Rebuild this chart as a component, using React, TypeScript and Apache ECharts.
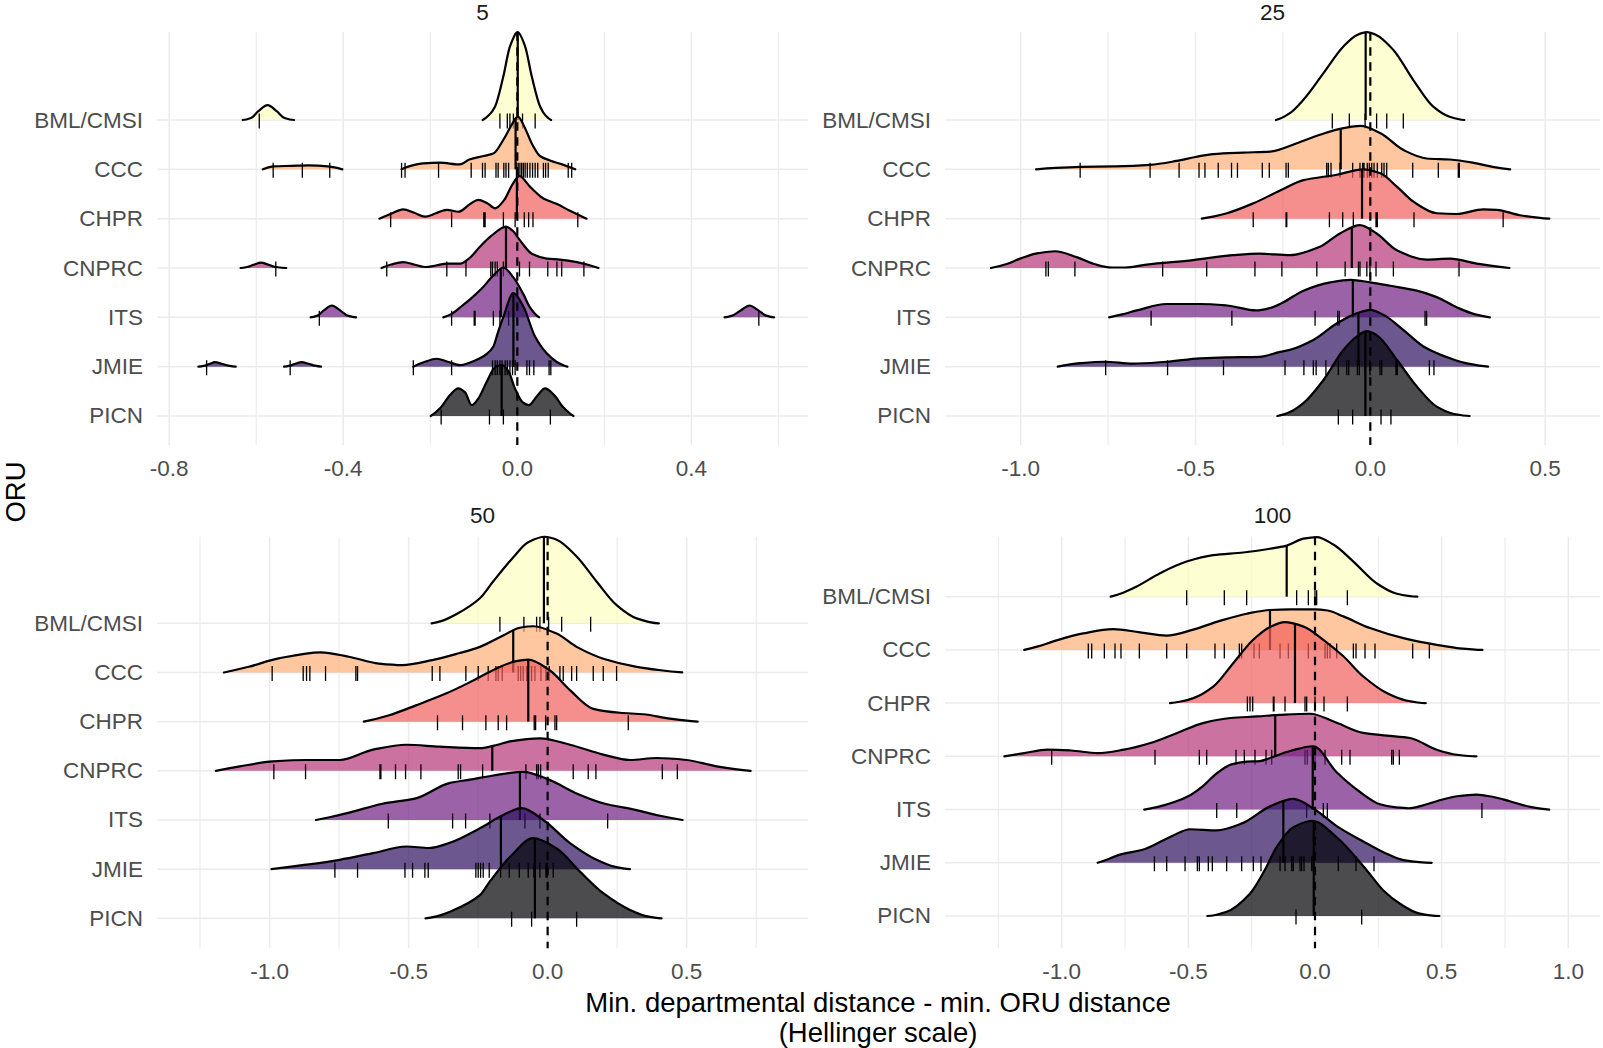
import React, { useEffect, useRef } from "react";
import * as echarts from "echarts";

// ---------- categories / labels ----------
const ORU = ["BML/CMSI", "CCC", "CHPR", "CNPRC", "ITS", "JMIE", "PICN"];
const ROW_OF = [7, 6, 5, 4, 3, 2, 1];
const MAGMA = ["#FCFDBF", "#FEAF77", "#F1605D", "#B63679", "#721F81", "#2D1160", "#000004"];
const PANEL_TITLES = ["5", "25", "50", "100"];

// ---------- x axis ticks ----------
const xMajor5 = [-0.8, -0.4, 0.0, 0.4];
const xMinor5 = [-0.6, -0.2, 0.2, 0.6];
const xMajor25 = [-1.0, -0.5, 0.0, 0.5];
const xMinor25 = [-0.75, -0.25, 0.25];
const xMajor50 = [-1.0, -0.5, 0.0, 0.5];
const xMinor50 = [-1.25, -0.75, -0.25, 0.25, 0.75];
const xMajor100 = [-1.0, -0.5, 0.0, 0.5, 1.0];
const xMinor100 = [-1.25, -0.75, -0.25, 0.25, 0.75];

const xRange5 = [-0.828, 0.668];
const xRange25 = [-1.2166, 0.657];
const xRange50 = [-1.4047, 0.9363];
const xRange100 = [-1.4607, 1.1251];
const yRange5 = [0.412, 8.778];
const yRange25 = [0.412, 8.778];
const yRange50 = [0.39, 8.761];
const yRange100 = [0.393, 8.127];

// ---------- density ridges: per ORU, list of segments of [x, height in rows] ----------
const density5 = [
  [
    [[-0.631, 0], [-0.612, 0.04], [-0.595, 0.18], [-0.574, 0.3], [-0.553, 0.18], [-0.535, 0.04], [-0.513, 0]],
    [[-0.0796, 0], [-0.065, 0.1], [-0.0513, 0.27], [-0.0322, 0.88], [-0.0169, 1.49], [0.001, 1.78], [0.018, 1.49], [0.0333, 0.88], [0.0525, 0.27], [0.066, 0.08], [0.0775, 0]],
  ],
  [
    [[-0.585, 0], [-0.56, 0.06], [-0.52, 0.07], [-0.48, 0.08], [-0.45, 0.07], [-0.42, 0.04], [-0.402, 0]],
    [[-0.266, 0], [-0.245, 0.07], [-0.216, 0.12], [-0.178, 0.135], [-0.132, 0.1], [-0.11, 0.2], [-0.078, 0.27], [-0.055, 0.32], [-0.032, 0.6], [-0.013, 0.9], [0.001, 1.07], [0.018, 0.83], [0.033, 0.53], [0.052, 0.27], [0.075, 0.18], [0.106, 0.09], [0.133, 0]],
  ],
  [
    [[-0.317, 0], [-0.29, 0.1], [-0.262, 0.19], [-0.237, 0.12], [-0.212, 0.04], [-0.187, 0.11], [-0.162, 0.18], [-0.135, 0.14], [-0.108, 0.3], [-0.09, 0.38], [-0.07, 0.32], [-0.051, 0.21], [-0.03, 0.38], [-0.012, 0.68], [0.0046, 0.865], [0.029, 0.65], [0.06, 0.41], [0.09, 0.3], [0.121, 0.16], [0.159, 0]],
  ],
  [
    [[-0.636, 0], [-0.621, 0.02], [-0.606, 0.065], [-0.589, 0.11], [-0.572, 0.065], [-0.555, 0.02], [-0.531, 0]],
    [[-0.312, 0], [-0.29, 0.07], [-0.262, 0.12], [-0.237, 0.07], [-0.212, 0.02], [-0.187, 0.05], [-0.162, 0.09], [-0.13, 0.09], [-0.11, 0.2], [-0.086, 0.43], [-0.06, 0.65], [-0.026, 0.84], [-0.01, 0.75], [0.0062, 0.56], [0.0333, 0.29], [0.068, 0.19], [0.098, 0.17], [0.137, 0.12], [0.1865, 0]],
  ],
  [
    [[-0.475, 0], [-0.459, 0.035], [-0.444, 0.145], [-0.426, 0.24], [-0.408, 0.145], [-0.39, 0.035], [-0.3705, 0]],
    [[-0.17, 0], [-0.151, 0.07], [-0.126, 0.24], [-0.108, 0.37], [-0.08, 0.6], [-0.055, 0.85], [-0.032, 1.01], [-0.009, 0.81], [0.0139, 0.47], [0.029, 0.2], [0.05, 0]],
    [[0.476, 0], [0.494, 0.035], [0.514, 0.145], [0.5334, 0.24], [0.553, 0.145], [0.572, 0.035], [0.59, 0]],
  ],
  [
    [[-0.733, 0], [-0.718, 0.02], [-0.706, 0.06], [-0.695, 0.09], [-0.68, 0.06], [-0.664, 0.02], [-0.647, 0]],
    [[-0.536, 0], [-0.523, 0.02], [-0.51, 0.06], [-0.496, 0.09], [-0.48, 0.06], [-0.465, 0.02], [-0.451, 0]],
    [[-0.239, 0], [-0.215, 0.09], [-0.185, 0.16], [-0.16, 0.1], [-0.131, 0.03], [-0.11, 0.08], [-0.086, 0.17], [-0.07, 0.26], [-0.055, 0.41], [-0.045, 0.68], [-0.032, 1.01], [-0.009, 1.49], [0.0139, 1.22], [0.0407, 0.61], [0.0675, 0.27], [0.09, 0.1], [0.115, 0]],
  ],
  [
    [[-0.199, 0], [-0.177, 0.16], [-0.154, 0.43], [-0.136, 0.56], [-0.12, 0.48], [-0.105, 0.22], [-0.09, 0.35], [-0.07, 0.7], [-0.05, 1.0], [-0.035, 1.03], [-0.02, 0.9], [-0.005, 0.55], [0.012, 0.28], [0.026, 0.22], [0.045, 0.4], [0.0638, 0.56], [0.085, 0.42], [0.105, 0.18], [0.129, 0]],
  ],
];

const density25 = [
  [[[-0.27, 0], [-0.23, 0.14], [-0.1915, 0.41], [-0.134, 0.95], [-0.077, 1.49], [-0.039, 1.72], [-0.01, 1.78], [0.018, 1.72], [0.066, 1.42], [0.123, 0.81], [0.18, 0.27], [0.225, 0.07], [0.269, 0]]],
  [[[-0.956, 0], [-0.9, 0.03], [-0.83, 0.05], [-0.73, 0.06], [-0.63, 0.09], [-0.554, 0.17], [-0.5, 0.25], [-0.449, 0.31], [-0.363, 0.34], [-0.287, 0.36], [-0.21, 0.53], [-0.144, 0.7], [-0.08, 0.83], [-0.028, 0.88], [0.029, 0.73], [0.095, 0.39], [0.161, 0.22], [0.228, 0.2], [0.304, 0.12], [0.35, 0.05], [0.4, 0]]],
  [[[-0.482, 0], [-0.45, 0.04], [-0.41, 0.11], [-0.335, 0.31], [-0.258, 0.57], [-0.1915, 0.78], [-0.096, 0.89], [-0.02, 1.0], [0.0286, 0.92], [0.076, 0.65], [0.124, 0.34], [0.19, 0.11], [0.247, 0.095], [0.3235, 0.19], [0.361, 0.18], [0.428, 0.07], [0.512, 0]]],
  [[[-1.085, 0], [-1.04, 0.08], [-1.002, 0.19], [-0.95, 0.3], [-0.902, 0.34], [-0.84, 0.22], [-0.79, 0.08], [-0.74, 0.01], [-0.7, 0.01], [-0.64, 0.07], [-0.507, 0.16], [-0.393, 0.26], [-0.317, 0.29], [-0.229, 0.26], [-0.144, 0.43], [-0.087, 0.7], [-0.0295, 0.87], [0.018, 0.7], [0.076, 0.36], [0.161, 0.17], [0.228, 0.19], [0.304, 0.09], [0.398, 0]]],
  [[[-0.747, 0], [-0.71, 0.06], [-0.668, 0.14], [-0.583, 0.27], [-0.487, 0.27], [-0.411, 0.24], [-0.326, 0.14], [-0.287, 0.19], [-0.25, 0.3], [-0.1915, 0.54], [-0.115, 0.71], [-0.057, 0.76], [0.0, 0.71], [0.057, 0.64], [0.133, 0.54], [0.19, 0.41], [0.248, 0.2], [0.3, 0.06], [0.342, 0]]],
  [[[-0.894, 0], [-0.83, 0.07], [-0.759, 0.1], [-0.68, 0.06], [-0.583, 0.1], [-0.487, 0.17], [-0.411, 0.19], [-0.317, 0.2], [-0.258, 0.3], [-0.23, 0.34], [-0.163, 0.54], [-0.095, 0.88], [-0.039, 1.08], [0.0, 1.15], [0.038, 1.05], [0.095, 0.74], [0.152, 0.41], [0.228, 0.17], [0.28, 0.06], [0.337, 0]]],
  [[[-0.266, 0], [-0.23, 0.08], [-0.1915, 0.26], [-0.134, 0.73], [-0.077, 1.34], [-0.039, 1.61], [-0.01, 1.72], [0.018, 1.64], [0.076, 1.14], [0.133, 0.6], [0.19, 0.19], [0.24, 0.04], [0.284, 0]]],
];

const density50 = [
  [[[-0.417, 0], [-0.38, 0.05], [-0.327, 0.19], [-0.2435, 0.51], [-0.196, 0.85], [-0.124, 1.34], [-0.07, 1.65], [-0.01, 1.76], [0.0324, 1.7], [0.1043, 1.36], [0.176, 0.85], [0.248, 0.37], [0.32, 0.1], [0.4, 0]]],
  [[[-1.164, 0], [-1.075, 0.115], [-0.967, 0.285], [-0.817, 0.41], [-0.715, 0.32], [-0.607, 0.18], [-0.523, 0.15], [-0.415, 0.25], [-0.319, 0.39], [-0.2435, 0.52], [-0.16, 0.75], [-0.0996, 0.91], [-0.0516, 0.94], [0.0324, 0.79], [0.1043, 0.52], [0.2002, 0.28], [0.32, 0.115], [0.4, 0.05], [0.484, 0]]],
  [[[-0.661, 0], [-0.5696, 0.13], [-0.4737, 0.33], [-0.366, 0.57], [-0.28, 0.8], [-0.1836, 1.08], [-0.12, 1.22], [-0.0696, 1.26], [0.0084, 1.04], [0.0804, 0.64], [0.1643, 0.26], [0.26, 0.18], [0.3441, 0.15], [0.44, 0.06], [0.5395, 0]]],
  [[[-1.193, 0], [-1.107, 0.09], [-0.988, 0.19], [-0.868, 0.22], [-0.748, 0.22], [-0.628, 0.43], [-0.508, 0.53], [-0.388, 0.49], [-0.2435, 0.46], [-0.18, 0.53], [-0.1356, 0.6], [-0.0276, 0.66], [0.0804, 0.53], [0.2, 0.33], [0.296, 0.22], [0.392, 0.26], [0.5, 0.22], [0.608, 0.09], [0.73, 0]]],
  [[[-0.833, 0], [-0.78, 0.06], [-0.713, 0.15], [-0.594, 0.33], [-0.474, 0.44], [-0.354, 0.75], [-0.28, 0.82], [-0.2, 0.9], [-0.0877, 0.98], [0.0084, 0.81], [0.1043, 0.54], [0.2, 0.34], [0.32, 0.2], [0.4, 0.09], [0.485, 0]]],
  [[[-0.993, 0], [-0.868, 0.09], [-0.748, 0.19], [-0.628, 0.325], [-0.508, 0.46], [-0.4257, 0.43], [-0.354, 0.53], [-0.2435, 0.83], [-0.16, 1.1], [-0.0935, 1.24], [-0.0156, 1.0], [0.0804, 0.53], [0.176, 0.19], [0.24, 0.05], [0.296, 0]]],
  [[[-0.439, 0], [-0.4, 0.04], [-0.351, 0.135], [-0.2435, 0.47], [-0.2076, 0.75], [-0.135, 1.25], [-0.0516, 1.63], [0.0324, 1.42], [0.1163, 0.95], [0.2, 0.51], [0.296, 0.17], [0.35, 0.05], [0.41, 0]]],
];

const density100 = [
  [[[-0.8066, 0], [-0.76, 0.07], [-0.704, 0.19], [-0.612, 0.44], [-0.507, 0.66], [-0.402, 0.78], [-0.283, 0.83], [-0.1785, 0.9], [-0.1118, 0.96], [-0.046, 1.09], [0.0066, 1.12], [0.0724, 0.98], [0.1514, 0.66], [0.2436, 0.25], [0.32, 0.06], [0.404, 0]]],
  [[[-1.1476, 0], [-1.09, 0.07], [-1.033, 0.16], [-0.915, 0.31], [-0.797, 0.39], [-0.6915, 0.33], [-0.5863, 0.27], [-0.481, 0.38], [-0.376, 0.545], [-0.2698, 0.68], [-0.1777, 0.75], [-0.0987, 0.76], [0.0, 0.76], [0.05, 0.74], [0.1119, 0.63], [0.2172, 0.41], [0.3488, 0.22], [0.4805, 0.094], [0.57, 0.03], [0.661, 0]]],
  [[[-0.5725, 0], [-0.53, 0.03], [-0.48, 0.094], [-0.402, 0.31], [-0.323, 0.75], [-0.244, 1.19], [-0.1777, 1.43], [-0.12, 1.52], [-0.046, 1.44], [0.0329, 1.19], [0.1119, 0.88], [0.1908, 0.5], [0.283, 0.19], [0.36, 0.05], [0.4369, 0]]],
  [[[-1.2265, 0], [-1.148, 0.06], [-1.056, 0.125], [-0.964, 0.11], [-0.859, 0.06], [-0.754, 0.125], [-0.6495, 0.25], [-0.5441, 0.44], [-0.4388, 0.63], [-0.3335, 0.72], [-0.2281, 0.75], [-0.138, 0.78], [-0.02, 0.8], [0.0856, 0.63], [0.1908, 0.44], [0.283, 0.39], [0.375, 0.345], [0.4805, 0.125], [0.56, 0.03], [0.6375, 0]]],
  [[[-0.674, 0], [-0.62, 0.05], [-0.55, 0.15], [-0.493, 0.27], [-0.44, 0.45], [-0.388, 0.68], [-0.33, 0.85], [-0.27, 0.9], [-0.2171, 0.91], [-0.1777, 0.97], [-0.0987, 1.1], [-0.0066, 1.19], [0.0856, 0.7], [0.1777, 0.33], [0.2566, 0.1], [0.32, 0.04], [0.37, 0.025], [0.42, 0.07], [0.4805, 0.157], [0.56, 0.25], [0.6375, 0.28], [0.7, 0.24], [0.769, 0.157], [0.85, 0.05], [0.9245, 0]]],
  [[[-0.858, 0], [-0.82, 0.06], [-0.7764, 0.144], [-0.671, 0.26], [-0.566, 0.5], [-0.493, 0.63], [-0.388, 0.61], [-0.283, 0.75], [-0.178, 1.06], [-0.0856, 1.2], [-0.0066, 1.02], [0.0856, 0.69], [0.1908, 0.4], [0.27, 0.2], [0.35, 0.05], [0.4606, 0]]],
  [[[-0.425, 0], [-0.3488, 0.08], [-0.257, 0.42], [-0.2, 0.85], [-0.151, 1.3], [-0.0856, 1.67], [-0.011, 1.79], [0.0856, 1.48], [0.204, 0.86], [0.27, 0.48], [0.3356, 0.23], [0.41, 0.05], [0.491, 0]]],
];

// ---------- observations (rug ticks) ----------
const rug5 = [
  [-0.593, -0.04, -0.023, -0.017, -0.009, 0.012, 0.041],
  [-0.561, -0.494, -0.431, -0.266, -0.258, -0.181, -0.106, -0.08, -0.074, -0.049, -0.044, -0.031, -0.026, -0.02, -0.002, 0.002, 0.006, 0.01, 0.014, 0.018, 0.023, 0.029, 0.035, 0.041, 0.047, 0.06, 0.065, 0.071, 0.117, 0.125],
  [-0.291, -0.151, -0.077, -0.074, -0.032, -0.005, 0.016, 0.026, 0.036, 0.139],
  [-0.555, -0.3, -0.162, -0.118, -0.061, -0.057, -0.051, -0.046, -0.032, 0.005, 0.028, 0.07, 0.091, 0.102, 0.153],
  [-0.455, -0.151, -0.099, -0.097, -0.055, -0.04, -0.02, 0.555],
  [-0.714, -0.522, -0.239, -0.151, -0.057, -0.051, -0.046, -0.04, -0.035, -0.028, -0.023, -0.017, -0.011, -0.005, 0.022, 0.028, 0.038, 0.073, 0.077],
  [-0.175, -0.064, -0.032, 0.076],
];
const rug25 = [
  [-0.1087, -0.06, -0.015, 0.018, 0.047, 0.0944],
  [-0.83, -0.63, -0.547, -0.49, -0.473, -0.435, -0.397, -0.38, -0.309, -0.289, -0.241, -0.2345, -0.1248, -0.12, -0.1124, -0.0867, -0.0505, -0.0295, -0.0219, -0.018, -0.0086, -0.0029, 0.004, 0.0106, 0.02, 0.0326, 0.0392, 0.0469, 0.1213, 0.1945, 0.2517, 0.2546],
  [-0.335, -0.241, -0.239, -0.117, -0.079, -0.0486, 0.0163, 0.02, 0.125, 0.38],
  [-0.928, -0.921, -0.845, -0.594, -0.468, -0.33, -0.253, -0.153, -0.072, -0.034, -0.0295, -0.01, -0.001, 0.0163, 0.066, 0.2537],
  [-0.627, -0.396, -0.158, -0.0934, -0.0887, 0.1565, 0.161],
  [-0.757, -0.58, -0.42, -0.244, -0.19, -0.163, -0.155, -0.127, -0.0915, -0.0675, -0.0618, -0.037, -0.0315, -0.015, -0.001, 0.0277, 0.0326, 0.0735, 0.077, 0.169, 0.182],
  [-0.0915, -0.0505, 0.0306, 0.059],
];
const rug50 = [
  [-0.1716, -0.0853, -0.0396, -0.0277, 0.0036, 0.0504, 0.1547],
  [-0.9906, -0.879, -0.867, -0.855, -0.7986, -0.6896, -0.6835, -0.415, -0.3874, -0.294, -0.2496, -0.2137, -0.186, -0.1777, -0.1633, -0.1058, -0.0971, -0.0878, -0.0755, -0.0576, -0.0457, -0.0241, -0.0061, 0.0058, 0.0442, 0.0561, 0.0863, 0.1043, 0.164, 0.2, 0.248],
  [-0.396, -0.306, -0.222, -0.1777, -0.1475, -0.0482, -0.0432, -0.0072, 0.0263, 0.0324, 0.29],
  [-0.9845, -0.8705, -0.603, -0.5996, -0.547, -0.5108, -0.4557, -0.3216, -0.313, -0.2338, -0.078, -0.0396, -0.0336, -0.0252, 0.092, 0.146, 0.1737, 0.4124, 0.4664],
  [-0.573, -0.3417, -0.295, -0.2076, -0.0817, -0.0277, 0.2158],
  [-0.765, -0.6835, -0.513, -0.4857, -0.4414, -0.4294, -0.258, -0.2496, -0.241, -0.2316, -0.21, -0.169, -0.138, -0.102, -0.0698, -0.0493, -0.0277, -0.0061, -0.0014, 0.0201],
  [-0.1295, -0.0576, 0.1043],
];
const rug100 = [
  [-0.5066, -0.358, -0.2698, -0.0724, -0.0263, 0.0, 0.0066, 0.1277],
  [-0.895, -0.8816, -0.8316, -0.7896, -0.766, -0.6935, -0.5855, -0.5066, -0.3948, -0.358, -0.2987, -0.2895, -0.2408, -0.2198, -0.138, -0.1053, -0.0263, 0.0395, 0.0487, 0.0592, 0.0856, 0.1514, 0.1619, 0.1974, 0.2369, 0.3856, 0.4514],
  [-0.267, -0.2566, -0.246, -0.1645, -0.1619, -0.1184, -0.0395, -0.0329, 0.0, 0.0355, 0.1277],
  [-1.0395, -0.6317, -0.4567, -0.4276, -0.3119, -0.279, -0.2369, -0.1934, -0.171, -0.0395, -0.0303, -0.0066, 0.0, 0.0395, 0.1053, 0.1382, 0.3027, 0.3093, 0.333],
  [-0.388, -0.309, -0.0329, 0.0329, 0.0487, 0.659],
  [-0.634, -0.5855, -0.513, -0.4645, -0.4567, -0.4212, -0.4053, -0.3488, -0.2895, -0.2435, -0.2132, -0.138, -0.1184, -0.092, -0.0856, -0.0592, -0.0526, -0.0434, -0.013, -0.0066, 0.092, 0.1619, 0.2329],
  [-0.075, 0.1843],
];

// ---------- medians (quantile lines) ----------
const median5 = [0.001, -0.004, -0.001, -0.026, -0.038, -0.009, -0.036];
const median25 = [-0.0133, -0.0847, -0.0237, -0.053, -0.05, -0.034, -0.014];
const median50 = [-0.0133, -0.1237, -0.0696, -0.199, -0.0996, -0.168, -0.0457];
const median100 = [-0.1118, -0.1777, -0.079, -0.157, -0.009, -0.125, -0.005];

// ---------- layout ----------
const FONT = "'Liberation Sans', Arial, Helvetica, sans-serif";
const GRID_BOX = [
  [157, 32.3, 651, 412.7],
  [945, 32.3, 655, 412.7],
  [157, 536.7, 651, 411.6],
  [945, 536.7, 655, 411.6],
];

const PANELS = [
  { dens: density5, rug: rug5, med: median5, major: xMajor5, minor: xMinor5, xr: xRange5, yr: yRange5 },
  { dens: density25, rug: rug25, med: median25, major: xMajor25, minor: xMinor25, xr: xRange25, yr: yRange25 },
  { dens: density50, rug: rug50, med: median50, major: xMajor50, minor: xMinor50, xr: xRange50, yr: yRange50 },
  { dens: density100, rug: rug100, med: median100, major: xMajor100, minor: xMinor100, xr: xRange100, yr: yRange100 },
];

function rgba(hex: string, a: number) {
  const r = parseInt(hex.slice(1, 3), 16), g = parseInt(hex.slice(3, 5), 16), b = parseInt(hex.slice(5, 7), 16);
  return `rgba(${r},${g},${b},${a})`;
}

// monotone cubic (PCHIP) slopes
function slopes(pts: number[][]): number[] {
  const n = pts.length;
  const h: number[] = [], d: number[] = [];
  for (let i = 0; i < n - 1; i++) {
    h[i] = pts[i + 1][0] - pts[i][0];
    d[i] = (pts[i + 1][1] - pts[i][1]) / h[i];
  }
  const m = new Array(n).fill(0);
  if (n === 2) { m[0] = d[0]; m[1] = d[0]; return m; }
  for (let i = 1; i < n - 1; i++) {
    if (d[i - 1] * d[i] <= 0) m[i] = 0;
    else {
      const w1 = 2 * h[i] + h[i - 1], w2 = h[i] + 2 * h[i - 1];
      m[i] = (w1 + w2) / (w1 / d[i - 1] + w2 / d[i]);
    }
  }
  const end = (h0: number, h1: number, d0: number, d1: number) => {
    let mm = ((2 * h0 + h1) * d0 - h0 * d1) / (h0 + h1);
    if (Math.sign(mm) !== Math.sign(d0)) mm = 0;
    else if (Math.sign(d0) !== Math.sign(d1) && Math.abs(mm) > Math.abs(3 * d0)) mm = 3 * d0;
    return mm;
  };
  m[0] = end(h[0], h[1], d[0], d[1]);
  m[n - 1] = end(h[n - 2], h[n - 3], d[n - 2], d[n - 3]);
  return m;
}

function heightAt(segs: number[][][], x: number): number {
  for (const seg of segs) {
    if (x < seg[0][0] || x > seg[seg.length - 1][0]) continue;
    const m = slopes(seg);
    for (let i = 0; i < seg.length - 1; i++) {
      const [x0, y0] = seg[i], [x1, y1] = seg[i + 1];
      if (x >= x0 && x <= x1) {
        const dx = x1 - x0, t = (x - x0) / dx;
        const t2 = t * t, t3 = t2 * t;
        return (2 * t3 - 3 * t2 + 1) * y0 + (t3 - 2 * t2 + t) * dx * m[i] + (-2 * t3 + 3 * t2) * y1 + (t3 - t2) * dx * m[i + 1];
      }
    }
  }
  return 0;
}

function buildOption() {
  const grid = GRID_BOX.map((b) => ({ left: b[0], top: b[1], width: b[2], height: b[3], containLabel: false, outerBoundsMode: "none" }));
  const axisText = { color: "#4D4D4D", fontSize: 22.5, fontFamily: FONT };
  const xAxis = PANELS.map((p, i) => ({
    type: "value", gridIndex: i, min: p.xr[0], max: p.xr[1],
    axisLine: { show: false }, axisTick: { show: false }, splitLine: { show: false },
    axisLabel: { ...axisText, margin: 12, customValues: p.major, formatter: (v: number) => v.toFixed(1), showMinLabel: true, showMaxLabel: true },
  }));
  const yAxis = PANELS.map((p, i) => ({
    type: "value", gridIndex: i, min: p.yr[0], max: p.yr[1],
    axisLine: { show: false }, axisTick: { show: false }, splitLine: { show: false },
    axisLabel: { ...axisText, margin: 14, customValues: [1, 2, 3, 4, 5, 6, 7], formatter: (v: number) => ORU[7 - Math.round(v)] },
  }));

  const series: any[] = [];
  PANELS.forEach((p, pi) => {
    // grid lines
    series.push({
      type: "custom", xAxisIndex: pi, yAxisIndex: pi, z: 1, silent: true,
      data: [[0, 1]],
      renderItem: (params: any, api: any) => {
        const cs = params.coordSys;
        const children: any[] = [];
        for (let r = 1; r <= 7; r++) {
          const y = api.coord([0, r])[1];
          children.push({ type: "line", shape: { x1: cs.x, y1: y, x2: cs.x + cs.width, y2: y }, style: { stroke: "#EBEBEB", lineWidth: 1.5 } });
        }
        p.minor.forEach((v) => {
          const x = api.coord([v, 1])[0];
          children.push({ type: "line", shape: { x1: x, y1: cs.y, x2: x, y2: cs.y + cs.height }, style: { stroke: "#EBEBEB", lineWidth: 1.1 } });
        });
        p.major.forEach((v) => {
          const x = api.coord([v, 1])[0];
          children.push({ type: "line", shape: { x1: x, y1: cs.y, x2: x, y2: cs.y + cs.height }, style: { stroke: "#EBEBEB", lineWidth: 1.5 } });
        });
        return { type: "group", children };
      },
    });
    // ridges
    series.push({
      type: "custom", xAxisIndex: pi, yAxisIndex: pi, z: 2, silent: true,
      data: ORU.map((_, k) => [0, ROW_OF[k]]),
      renderItem: (params: any, api: any) => {
        const k = params.dataIndex;
        const base = api.value(1);
        const segs = p.dens[k];
        const col = rgba(MAGMA[k], 0.7);
        const children: any[] = [];
        const P = (x: number, y: number) => api.coord([x, y]);
        segs.forEach((seg) => {
          const m = slopes(seg);
          const s0 = P(seg[0][0], base + seg[0][1]);
          let top = `${s0[0]},${s0[1]}`;
          for (let i = 0; i < seg.length - 1; i++) {
            const [x0, y0] = seg[i], [x1, y1] = seg[i + 1];
            const dx = x1 - x0;
            const c1 = P(x0 + dx / 3, base + y0 + (m[i] * dx) / 3);
            const c2 = P(x1 - dx / 3, base + y1 - (m[i + 1] * dx) / 3);
            const e = P(x1, base + y1);
            top += `C${c1[0]},${c1[1]},${c2[0]},${c2[1]},${e[0]},${e[1]}`;
          }
          const b0 = P(seg[0][0], base), b1 = P(seg[seg.length - 1][0], base);
          children.push({ type: "path", z2: k * 10, shape: { pathData: `M${b0[0]},${b0[1]}L${top}L${b1[0]},${b1[1]}Z` }, style: { fill: col, stroke: null } });
          children.push({ type: "path", z2: k * 10 + 1, shape: { pathData: `M${top}` }, style: { fill: null, stroke: "#000", lineWidth: 2.2, lineJoin: "round", lineCap: "round" } });
        });
        const mx = p.med[k];
        const mh = heightAt(segs, mx);
        const a = P(mx, base), b = P(mx, base + mh);
        children.push({ type: "line", z2: k * 10 + 2, shape: { x1: a[0], y1: a[1], x2: b[0], y2: b[1] }, style: { stroke: "#000", lineWidth: 2.2 } });
        let d = "";
        p.rug[k].forEach((x) => {
          const c = P(x, base);
          d += `M${c[0]},${c[1] - 6.5}L${c[0]},${c[1] + 8.5}`;
        });
        children.push({ type: "path", z2: k * 10 + 3, shape: { pathData: d }, style: { fill: null, stroke: "#000", lineWidth: 1.3 } });
        return { type: "group", children };
      },
    });
    // dashed zero line
    series.push({
      type: "custom", xAxisIndex: pi, yAxisIndex: pi, z: 3, silent: true,
      data: [[0, 1]],
      renderItem: (params: any, api: any) => {
        const cs = params.coordSys;
        const x = api.coord([0, 1])[0];
        return { type: "line", shape: { x1: x, y1: cs.y, x2: x, y2: cs.y + cs.height }, style: { stroke: "#000", lineWidth: 2.2, lineDash: [8.5, 6.5] } };
      },
    });
  });

  const txt = (text: string, x: number, y: number, size: number, color: string, rotation = 0) => ({
    type: "text", x, y, rotation, silent: true,
    style: { text, fill: color, font: `${size}px ${FONT}`, fontSize: size, fontFamily: FONT, textAlign: "center", textVerticalAlign: "middle", align: "center", verticalAlign: "middle" },
  });
  const graphic = [
    txt(PANEL_TITLES[0], 482.5, 12.7, 22.5, "#1A1A1A"),
    txt(PANEL_TITLES[1], 1272.5, 12.7, 22.5, "#1A1A1A"),
    txt(PANEL_TITLES[2], 482.5, 515, 22.5, "#1A1A1A"),
    txt(PANEL_TITLES[3], 1272.5, 515, 22.5, "#1A1A1A"),
    txt("Min. departmental distance - min. ORU distance", 878, 1002, 27.5, "#000"),
    txt("(Hellinger scale)", 878, 1032, 27.5, "#000"),
    txt("ORU", 15, 492, 27.5, "#000", Math.PI / 2),
  ];

  return { animation: false, backgroundColor: "#FFFFFF", grid, xAxis, yAxis, series, graphic };
}

export default function App() {
  const ref = useRef<HTMLDivElement>(null);
  useEffect(() => {
    const chart = echarts.init(ref.current as HTMLDivElement, undefined, { renderer: "svg", width: 1603, height: 1048 });
    chart.setOption(buildOption() as any);
    return () => chart.dispose();
  }, []);
  return <div ref={ref} style={{ position: "fixed", left: 0, top: 0, width: 1603, height: 1048, background: "#fff" }} />;
}
